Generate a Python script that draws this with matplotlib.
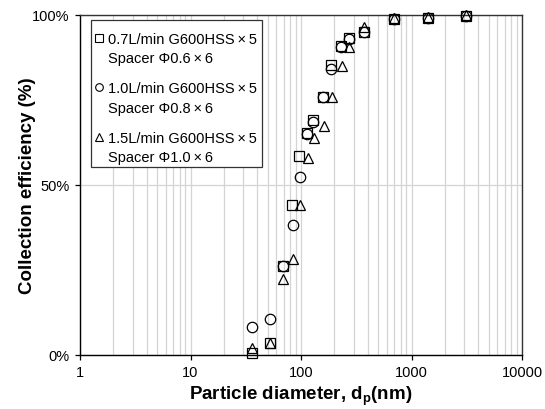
import matplotlib.pyplot as plt
from matplotlib.patches import Rectangle
from matplotlib.ticker import FixedLocator, NullFormatter

plt.rcParams['font.family'] = ['Liberation Sans', 'DejaVu Sans']
plt.rcParams['mathtext.fontset'] = 'custom'
plt.rcParams['mathtext.bf'] = 'Liberation Sans:bold'
plt.rcParams['mathtext.rm'] = 'Liberation Sans'

# 0.7 L/min  (square)
d_sq = [35.8, 52.4, 68.5, 82.5, 96.0, 113, 129, 157, 187, 229, 272, 368, 700, 1400, 3100]
e_sq = [0.5, 3.4, 26.2, 44.0, 58.5, 65.3, 68.9, 75.7, 85.2, 90.8, 93.0, 95.0, 98.8, 99.0, 99.7]

# 1.0 L/min  (circle)
d_ci = [35.8, 52.4, 68.5, 84.0, 97.0, 112.5, 129, 157, 187, 229, 272, 368, 700, 1400, 3100]
e_ci = [8.3, 10.6, 26.2, 38.3, 52.4, 64.9, 68.3, 75.7, 84.0, 90.5, 92.8, 95.0, 98.8, 99.0, 99.7]

# 1.5 L/min  (triangle)
d_tr = [35.8, 52.4, 68.5, 84.5, 98.0, 116, 132, 161, 190, 233, 272, 368, 700, 1400, 3100]
e_tr = [2.0, 3.4, 22.3, 28.2, 44.0, 57.9, 63.7, 67.4, 75.7, 84.8, 90.4, 96.4, 99.0, 99.2, 99.9]

x_sign = '\u2009\u00d7\u2009'
labels = [
    ('0.7L/min G600HSS' + x_sign + '5', 'Spacer \u03a60.6' + x_sign + '6'),
    ('1.0L/min G600HSS' + x_sign + '5', 'Spacer \u03a60.8' + x_sign + '6'),
    ('1.5L/min G600HSS' + x_sign + '5', 'Spacer \u03a61.0' + x_sign + '6'),
]
markers = ['s', 'o', '^']
x_ticks = [1, 10, 100, 1000, 10000]
y_ticks = [0, 50, 100]

W, H = 545, 410
AX_L, AX_R, AX_T, AX_B = 80, 522, 15.5, 356

fig = plt.figure(figsize=(W / 100, H / 100), dpi=100)
ax = fig.add_axes([AX_L / W, (H - AX_B) / H, (AX_R - AX_L) / W, (AX_B - AX_T) / H])


def to_ax(px, py):
    # pixel position in the picture -> axes fraction
    return (px - AX_L) / (AX_R - AX_L), (AX_B - py) / (AX_B - AX_T)


mk = dict(linestyle='none', markerfacecolor='none', markeredgecolor='black',
          markeredgewidth=0.9, markersize=7.5, clip_on=False, zorder=3)
ax.plot(d_sq, e_sq, marker='s', **mk)
ax.plot(d_ci, e_ci, marker='o', **mk)
ax.plot(d_tr, e_tr, marker='^', **mk)

ax.set_xscale('log')
ax.set_xlim(1, 10000)
ax.set_ylim(0, 100)
ax.xaxis.set_major_locator(FixedLocator(x_ticks))
ax.set_xticklabels([str(t) for t in x_ticks])
ax.xaxis.set_minor_locator(FixedLocator([m * 10 ** k for k in range(4) for m in range(2, 10)]))
ax.xaxis.set_minor_formatter(NullFormatter())
ax.set_yticks(y_ticks)
ax.set_yticklabels([f'{t}%' for t in y_ticks])

ax.grid(True, which='both', axis='x', color='#d4d4d4', linewidth=0.9)
ax.grid(True, which='major', axis='y', color='#d4d4d4', linewidth=0.9)
ax.set_axisbelow(True)
ax.tick_params(which='major', direction='out', length=3.5, width=0.9, labelsize=10.5,
               colors='black', pad=4)
ax.tick_params(which='minor', length=0)
for s in ax.spines.values():
    s.set_linewidth(1.0)
    s.set_color('#333333')
ax.spines['bottom'].set_color('black')
ax.spines['left'].set_color('black')

ax.set_xlabel(r'Particle diameter, d$_\mathbf{p}$(nm)', fontsize=13.5, fontweight='bold', labelpad=3)
ax.set_ylabel('Collection efficiency (%)', fontsize=13.5, fontweight='bold', labelpad=-3)

# legend box drawn by hand: marker beside the first line of each two-line entry
x0, y0 = to_ax(90.7, 167.7)
x1, y1 = to_ax(262, 21)
ax.add_patch(Rectangle((x0, y0), x1 - x0, y1 - y0, transform=ax.transAxes,
                       facecolor='white', edgecolor='#333333', linewidth=0.9, zorder=5))
first_rows = [38.5, 88, 137.5]
for (l1, l2), m, yc in zip(labels, markers, first_rows):
    mx, my = to_ax(98.5, yc)
    ax.plot([mx], [my], marker=m, transform=ax.transAxes, linestyle='none',
            markerfacecolor='none', markeredgecolor='black', markeredgewidth=0.8,
            markersize=5.5, zorder=6, clip_on=False)
    tx, ty = to_ax(107.5, yc + 5.2)
    ax.text(tx, ty, l1, transform=ax.transAxes, fontsize=10.5, va='baseline', ha='left', zorder=6)
    tx, ty = to_ax(107.5, yc + 19.7 + 5.2)
    ax.text(tx, ty, l2, transform=ax.transAxes, fontsize=10.5, va='baseline', ha='left', zorder=6)

fig.savefig('out.png', dpi=100)
